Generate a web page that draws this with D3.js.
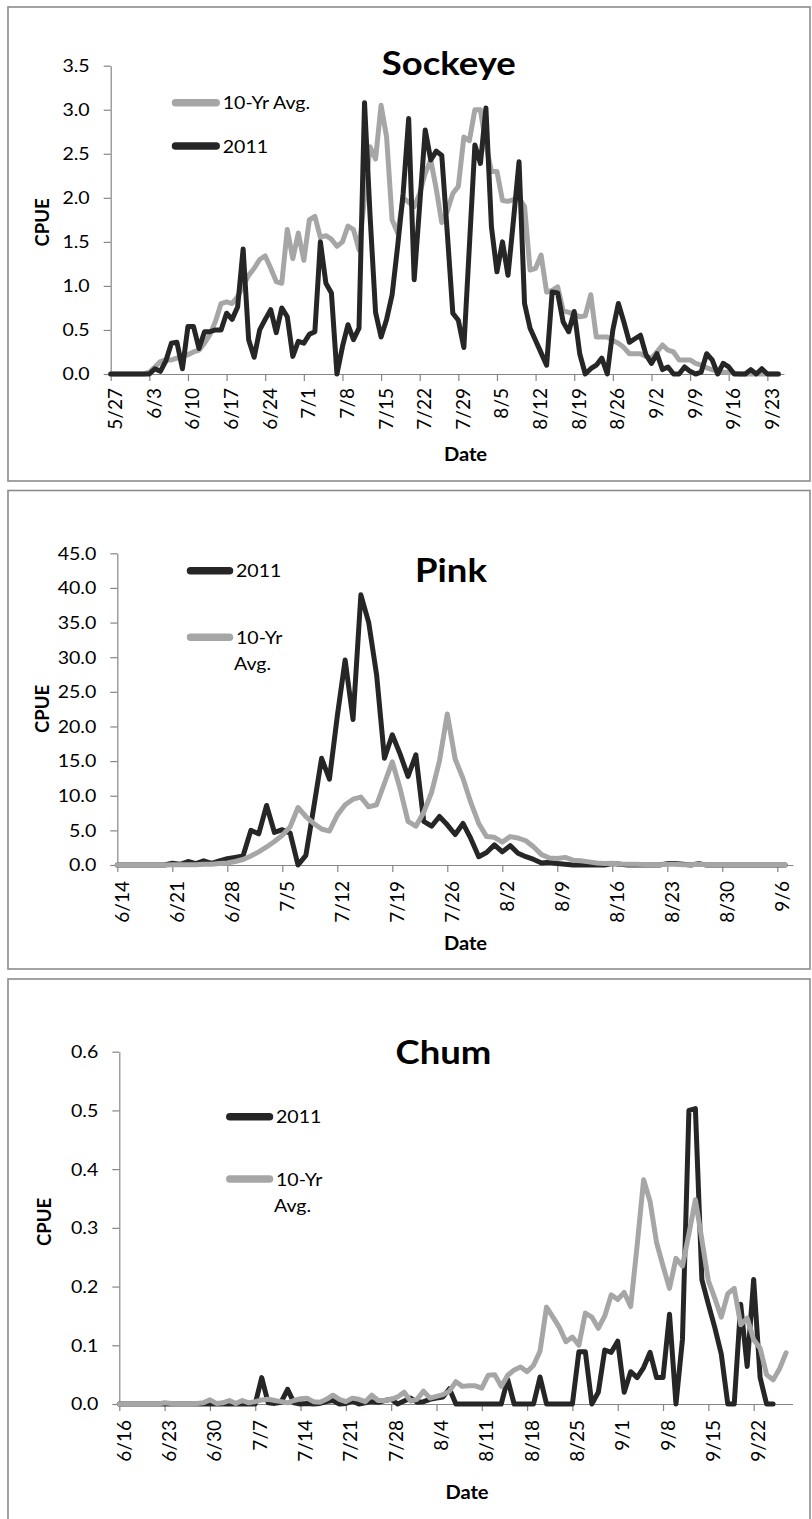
<!DOCTYPE html>
<html>
<head>
<meta charset="utf-8">
<script src="https://cdn.jsdelivr.net/npm/d3@7"></script>
<style>
  body { margin: 0; background: #fff; }
  svg { display: block; }
  text { font-family: Lato, "Open Sans", sans-serif; fill: #000; }
</style>
</head>
<body>
<svg id="chart" width="812" height="1519"></svg>
<script>
// ---- Daily CPUE, Sockeye (first day 5/27) ----
const sockeyeStart = "2011-05-27";
const sockeye2011 = [
  0, 0, 0, 0, 0, 0, 0, 0, 0.06, 0.03,
  0.15, 0.35, 0.36, 0.06, 0.54, 0.54, 0.29, 0.48, 0.48, 0.5,
  0.5, 0.69, 0.62, 0.76, 1.42, 0.39, 0.19, 0.5, 0.62, 0.73,
  0.47, 0.75, 0.65, 0.2, 0.37, 0.35, 0.45, 0.48, 1.5, 1.03,
  0.92, 0, 0.31, 0.56, 0.39, 0.52, 3.08, 1.8, 0.7, 0.42,
  0.62, 0.9, 1.45, 2.05, 2.9, 1.07, 1.92, 2.77, 2.43, 2.53,
  2.48, 1.6, 0.69, 0.61, 0.3, 1.45, 2.6, 2.39, 3.02, 1.67,
  1.16, 1.5, 1.12, 1.75, 2.41, 0.8, 0.52, 0.38, 0.24, 0.1,
  0.93, 0.92, 0.59, 0.48, 0.71, 0.23, 0, 0.06, 0.1, 0.18,
  0, 0.5, 0.8, 0.59, 0.36, 0.4, 0.44, 0.22, 0.12, 0.23,
  0.05, 0.08, 0, 0, 0.08, 0.03, 0, 0.02, 0.23, 0.16,
  0, 0.12, 0.08, 0, 0, 0, 0.05, 0, 0.06, 0,
  0, 0
];
const sockeyeAvg = [
  0, 0, 0, 0, 0, 0, 0, 0.02, 0.08, 0.14,
  0.16, 0.16, 0.18, 0.2, 0.22, 0.25, 0.27, 0.35, 0.45, 0.6,
  0.8, 0.82, 0.8, 0.88, 1.0, 1.12, 1.2, 1.3, 1.34, 1.2,
  1.05, 1.03, 1.64, 1.31, 1.6, 1.29, 1.75, 1.79, 1.55, 1.57,
  1.53, 1.45, 1.5, 1.68, 1.64, 1.41, 2.0, 2.58, 2.44, 3.05,
  2.69, 1.75, 1.6, 2.0, 1.95, 1.9, 2.05, 2.28, 2.43, 2.1,
  1.72, 1.85, 2.05, 2.13, 2.69, 2.65, 3.0, 3.0, 2.6, 2.3,
  2.3, 1.97, 1.96, 1.98, 2.0, 1.9, 1.18, 1.2, 1.35, 0.93,
  0.95, 0.99, 0.72, 0.7, 0.68, 0.65, 0.66, 0.9, 0.42, 0.42,
  0.42, 0.38, 0.35, 0.3, 0.23, 0.23, 0.23, 0.2, 0.18, 0.25,
  0.33, 0.27, 0.25, 0.16, 0.16, 0.16, 0.12, 0.1, 0.07, 0.05,
  0.03, 0.02, 0.02, 0.01, 0, 0, 0, 0, 0, 0,
  0, 0
];
const sockeyeDateTicks = ["5/27", "6/3", "6/10", "6/17", "6/24", "7/1", "7/8", "7/15", "7/22",
  "7/29", "8/5", "8/12", "8/19", "8/26", "9/2", "9/9", "9/16", "9/23"];
const sockeyeCpueTicks = [0, 0.5, 1, 1.5, 2, 2.5, 3, 3.5];

// ---- Daily CPUE, Pink (first day 6/14) ----
const pinkStart = "2011-06-14";
const pink2011 = [
  0, 0, 0, 0, 0, 0, 0, 0.25, 0.1, 0.5,
  0.2, 0.6, 0.25, 0.6, 0.9, 1.1, 1.3, 5.0, 4.5, 8.6,
  4.7, 5.1, 4.6, 0, 1.4, 8.3, 15.4, 12.4, 21.5, 29.6,
  21.0, 39.0, 35.0, 27.5, 15.4, 18.8, 16.0, 12.8, 15.9, 6.3,
  5.6, 7.0, 5.8, 4.4, 6.0, 3.8, 1.2, 1.8, 2.9, 1.9,
  2.8, 1.7, 1.2, 0.8, 0.3, 0.4, 0.2, 0.1, 0, 0,
  0, 0, 0, 0.2, 0.1, 0, 0, 0, 0, 0,
  0.2, 0.2, 0.1, 0, 0.2, 0, 0, 0, 0, 0,
  0, 0, 0, 0, 0, 0
];
const pinkAvg = [
  0, 0, 0, 0, 0, 0, 0, 0.05, 0.05, 0.05,
  0.05, 0.1, 0.1, 0.2, 0.3, 0.5, 0.8, 1.3, 1.9, 2.6,
  3.4, 4.3, 5.5, 8.3, 7.0, 6.0, 5.2, 4.9, 7.2, 8.7,
  9.5, 9.8, 8.4, 8.7, 11.8, 14.9, 11.0, 6.3, 5.6, 7.6,
  10.5, 15.0, 21.8, 15.3, 12.5, 9.0, 6.0, 4.1, 4.0, 3.3,
  4.1, 3.9, 3.5, 2.6, 1.5, 1.0, 0.95, 1.1, 0.7, 0.6,
  0.45, 0.3, 0.2, 0.25, 0.15, 0.1, 0.1, 0.08, 0.05, 0.05,
  0.1, 0.1, 0.05, 0.05, 0.1, 0.05, 0.05, 0.05, 0.05, 0.05,
  0.05, 0.05, 0.05, 0.05, 0.05, 0.05
];
const pinkDateTicks = ["6/14", "6/21", "6/28", "7/5", "7/12", "7/19", "7/26", "8/2", "8/9",
  "8/16", "8/23", "8/30", "9/6"];
const pinkCpueTicks = [0, 5, 10, 15, 20, 25, 30, 35, 40, 45];

// ---- Daily CPUE, Chum (first day 6/16) ----
const chumStart = "2011-06-16";
const chum2011 = [
  0, 0, 0, 0, 0, 0, 0, 0, 0, 0,
  0, 0, 0, 0, 0, 0, 0, 0, 0, 0,
  0, 0, 0.045, 0.002, 0.001, 0.003, 0.025, 0.002, 0, 0.001,
  0, 0.001, 0.004, 0.006, 0, 0.001, 0.005, 0, 0.002, 0.004,
  0.003, 0.006, 0.008, 0, 0.005, 0.01, 0.003, 0.004, 0.008, 0.01,
  0.012, 0.026, 0, 0, 0, 0, 0, 0, 0, 0,
  0.042, 0, 0, 0, 0, 0.046, 0, 0, 0, 0,
  0, 0.089, 0.089, 0, 0.02, 0.092, 0.088, 0.107, 0.02, 0.055,
  0.045, 0.062, 0.088, 0.045, 0.045, 0.153, 0, 0.11, 0.5, 0.503,
  0.212, 0.17, 0.13, 0.085, 0, 0, 0.17, 0.064, 0.212, 0.045,
  0, 0
];
const chumAvg = [
  0, 0, 0, 0, 0, 0, 0, 0.002, 0.001, 0,
  0, 0, 0.001, 0.002, 0.007, 0.001, 0.002, 0.006, 0.001, 0.006,
  0.002, 0.004, 0.007, 0.008, 0.006, 0.004, 0.002, 0.006, 0.009, 0.01,
  0.004, 0.003, 0.008, 0.015, 0.008, 0.004, 0.01, 0.008, 0.004, 0.015,
  0.006, 0.006, 0.008, 0.012, 0.02, 0.005, 0.008, 0.022, 0.01, 0.013,
  0.016, 0.022, 0.038, 0.03, 0.031, 0.031, 0.027, 0.049, 0.05, 0.03,
  0.049, 0.058, 0.063, 0.055, 0.066, 0.09, 0.165, 0.148, 0.13, 0.106,
  0.114, 0.1, 0.155, 0.148, 0.129, 0.15, 0.186, 0.178, 0.19, 0.166,
  0.27, 0.382, 0.345, 0.275, 0.235, 0.197, 0.248, 0.235, 0.29, 0.348,
  0.28, 0.21, 0.18, 0.148, 0.188, 0.197, 0.135, 0.146, 0.11, 0.095,
  0.05, 0.041, 0.06, 0.087
];
const chumDateTicks = ["6/16", "6/23", "6/30", "7/7", "7/14", "7/21", "7/28", "8/4", "8/11",
  "8/18", "8/25", "9/1", "9/8", "9/15", "9/22"];
const chumCpueTicks = [0, 0.1, 0.2, 0.3, 0.4, 0.5, 0.6];

// ---- Styling ----
const DARK = "#262626";
const GRAY = "#a6a6a6";
const AXIS = "#868686";
const FRAME = "#8c8c8c";

const parseDay = d3.utcParse("%Y-%m-%d");
const parseTick = d3.utcParse("%Y/%m/%d");

// Each panel: data references plus its own placement on the page.
const panels = [
  {
    title: "Sockeye", start: sockeyeStart, dateTicks: sockeyeDateTicks, cpueTicks: sockeyeCpueTicks,
    series: [
      { label: ["10-Yr Avg."], values: sockeyeAvg, color: GRAY },
      { label: ["2011"], values: sockeye2011, color: DARK }
    ],
    frame: [8, 7, 802, 474],
    plot: { left: 110.7, top: 65.7, bottom: 374, dayPx: 5.518 },
    xLabelGap: 14,
    title_xy: [448.8, 74.5],
    yTitle_xy: [42, 222.5],
    xTitle_xy: [465.5, 461],
    legend: { x1: 175.5, x2: 216.2, textX: 222.7, rows: [102.7, 146] }
  },
  {
    title: "Pink", start: pinkStart, dateTicks: pinkDateTicks, cpueTicks: pinkCpueTicks,
    series: [
      { label: ["2011"], values: pink2011, color: DARK },
      { label: ["10-Yr", "Avg."], values: pinkAvg, color: GRAY }
    ],
    frame: [8, 490.5, 802, 478.5],
    plot: { left: 117.3, top: 553.3, bottom: 865, dayPx: 7.857 },
    xLabelGap: 16,
    title_xy: [451, 581.7],
    yTitle_xy: [42, 709],
    xTitle_xy: [465.5, 949.5],
    legend: { x1: 190.5, x2: 229.5, textX: 236, rows: [570.7, 637.3] }
  },
  {
    title: "Chum", start: chumStart, dateTicks: chumDateTicks, cpueTicks: chumCpueTicks,
    series: [
      { label: ["2011"], values: chum2011, color: DARK },
      { label: ["10-Yr", "Avg."], values: chumAvg, color: GRAY }
    ],
    frame: [8, 979, 802, 560],
    plot: { left: 119.3, top: 1051.7, bottom: 1404, dayPx: 6.473 },
    xLabelGap: 16,
    title_xy: [443.5, 1063.5],
    yTitle_xy: [44, 1222],
    xTitle_xy: [467, 1499],
    legend: { x1: 229.8, x2: 269.5, textX: 276, rows: [1116.7, 1179] }
  }
];

const svg = d3.select("#chart");
svg.append("rect").attr("width", 812).attr("height", 1519).attr("fill", "#fff");

panels.forEach(drawPanel);

function drawPanel(p) {
  const g = svg.append("g");

  g.append("rect")
    .attr("x", p.frame[0]).attr("y", p.frame[1])
    .attr("width", p.frame[2]).attr("height", p.frame[3])
    .attr("fill", "none").attr("stroke", FRAME).attr("stroke-width", 1.6);

  const start = parseDay(p.start);
  const nDays = d3.max(p.series, s => s.values.length);
  const x = d3.scaleUtc()
    .domain([start, d3.utcDay.offset(start, nDays)])
    .range([p.plot.left, p.plot.left + nDays * p.plot.dayPx]);
  const y = d3.scaleLinear()
    .domain([0, d3.max(p.cpueTicks)])
    .range([p.plot.bottom, p.plot.top]);

  // Value axis
  const ya = g.append("g")
    .attr("transform", `translate(${p.plot.left},0)`)
    .call(d3.axisLeft(y).tickValues(p.cpueTicks).tickFormat(d3.format(".1f"))
      .tickSize(7).tickSizeOuter(0));
  ya.attr("font-family", null).attr("font-size", null);
  ya.select(".domain").attr("stroke", AXIS).attr("stroke-width", 1.2);
  ya.selectAll(".tick line").attr("stroke", AXIS).attr("stroke-width", 1.2);
  ya.selectAll(".tick text")
    .attr("x", null).attr("dy", "0.36em")
    .attr("transform", "translate(-21,0) scale(1.2,1)")
    .style("font-size", "16.3px").attr("fill", "#000");

  // Date axis
  const tickDates = p.dateTicks.map(s => parseTick("2011/" + s));
  const xa = g.append("g")
    .attr("transform", `translate(0,${p.plot.bottom})`)
    .call(d3.axisBottom(x).tickValues(tickDates).tickFormat((d, i) => p.dateTicks[i])
      .tickSize(7).tickSizeOuter(0));
  xa.attr("font-family", null).attr("font-size", null);
  xa.select(".domain").attr("stroke", AXIS).attr("stroke-width", 1.2);
  xa.selectAll(".tick line").attr("stroke", AXIS).attr("stroke-width", 1.2);
  xa.selectAll(".tick text")
    .attr("y", null).attr("dy", null)
    .attr("text-anchor", "end")
    .attr("transform", `translate(11,${p.xLabelGap}) rotate(-90)`)
    .style("font-size", "19px").attr("fill", "#000");

  // Series lines
  p.series.forEach(s => {
    const line = d3.line()
      .x((v, i) => x(d3.utcDay.offset(start, i)))
      .y(v => y(v));
    g.append("path")
      .datum(s.values)
      .attr("d", line)
      .attr("fill", "none")
      .attr("stroke", s.color)
      .attr("stroke-width", 5)
      .attr("stroke-linejoin", "round")
      .attr("stroke-linecap", "round");
  });

  // Title
  g.append("text")
    .attr("transform", `translate(${p.title_xy[0]},${p.title_xy[1]}) scale(1.14,1)`)
    .attr("text-anchor", "middle")
    .style("font-size", "32px").style("font-weight", "700")
    .text(p.title);

  // Axis titles
  g.append("text")
    .attr("transform", `translate(${p.yTitle_xy[0]},${p.yTitle_xy[1]}) rotate(-90)`)
    .attr("text-anchor", "middle").attr("dy", "0.36em")
    .style("font-size", "18.5px").style("font-weight", "700")
    .text("CPUE");
  g.append("text")
    .attr("transform", `translate(${p.xTitle_xy[0]},${p.xTitle_xy[1]}) scale(1.07,1)`)
    .attr("text-anchor", "middle")
    .style("font-size", "18.8px").style("font-weight", "700")
    .text("Date");

  // Legend
  p.series.forEach((s, k) => {
    const ly = p.legend.rows[k];
    g.append("line")
      .attr("x1", p.legend.x1).attr("x2", p.legend.x2)
      .attr("y1", ly).attr("y2", ly)
      .attr("stroke", s.color).attr("stroke-width", 7.5)
      .attr("stroke-linecap", "round");
    s.label.forEach((t, j) => {
      g.append("text")
        .attr("transform", `translate(${p.legend.textX - (j ? 2 : 0)},${ly + 6.6 + j * 26.4}) scale(1.2,1)`)
        .style("font-size", "16.3px")
        .text(t);
    });
  });
}
</script>
</body>
</html>
